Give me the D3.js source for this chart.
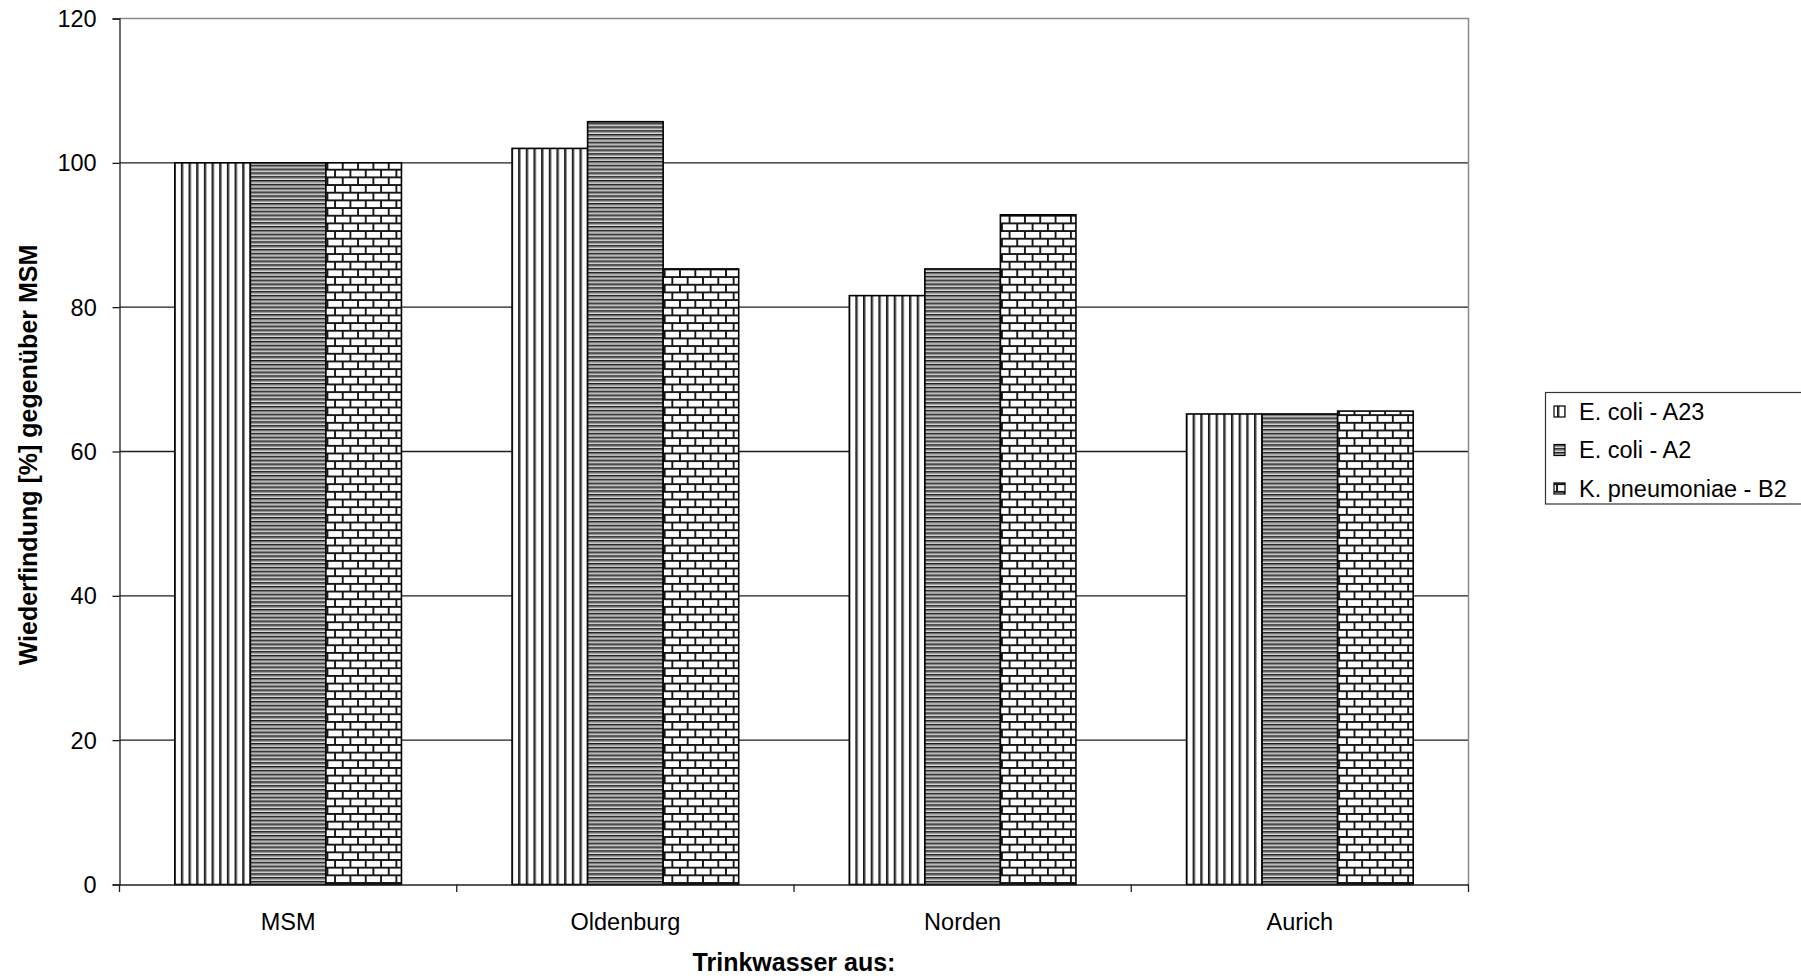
<!DOCTYPE html>
<html>
<head>
<meta charset="utf-8">
<script src="https://cdn.jsdelivr.net/npm/d3@7"></script>
<style>
  html, body { margin: 0; padding: 0; background: #fff; }
  svg { display: block; }
  text { font-family: "Liberation Sans", Arial, sans-serif; fill: #000; }
</style>
</head>
<body>
<svg id="chart" width="1801" height="978"></svg>
<script>
// Recovery of test organisms in drinking water from different sites, relative to MSM
const categories = ["MSM", "Oldenburg", "Norden", "Aurich"];
const seriesNames = ["E. coli - A23", "E. coli - A2", "K. pneumoniae - B2"];
const ecoliA23 = [100, 102.0, 81.6, 65.2];
const ecoliA2 = [100, 105.7, 85.3, 65.2];
const kPneumoniaeB2 = [100, 85.3, 92.8, 65.6];
const yTicks = [0, 20, 40, 60, 80, 100, 120];
const yTitle = "Wiederfindung [%] gegenüber MSM";
const xTitle = "Trinkwasser aus:";

const seriesValues = [ecoliA23, ecoliA2, kPneumoniaeB2];
const patternIds = ["pat-vert", "pat-horiz", "pat-brick"];

const plot = { left: 119.5, right: 1468.5, top: 18.5, bottom: 884.5 };
const fontSize = 23.5;
const titleSize = 25;

const svg = d3.select("#chart");
const defs = svg.append("defs");

// Vertical line fill
{
  const p = defs.append("pattern").attr("id", "pat-vert")
    .attr("patternUnits", "userSpaceOnUse").attr("width", 7.67).attr("height", 10);
  p.append("rect").attr("width", 7.67).attr("height", 10).attr("fill", "#fff");
  p.append("rect").attr("x", 0).attr("width", 1.8).attr("height", 10).attr("fill", "#161616");
  p.append("rect").attr("x", 1.8).attr("width", 1.0).attr("height", 10).attr("fill", "#8f8f8f");
}
// Dense horizontal line fill
{
  const h = 3.83;
  const p = defs.append("pattern").attr("id", "pat-horiz")
    .attr("patternUnits", "userSpaceOnUse").attr("width", 10).attr("height", h);
  p.append("rect").attr("width", 10).attr("height", h).attr("fill", "#dcdcdc");
  p.append("rect").attr("y", 0).attr("width", 10).attr("height", 1.6).attr("fill", "#1e1e1e");
  p.append("rect").attr("y", 1.6).attr("width", 10).attr("height", 1.0).attr("fill", "#8c8c8c");
}
// Brick fill
{
  const w = 15.33, rh = 7.67, t = 1.9, c = "#161616";
  const p = defs.append("pattern").attr("id", "pat-brick")
    .attr("patternUnits", "userSpaceOnUse").attr("width", w).attr("height", rh * 2);
  p.append("rect").attr("width", w).attr("height", rh * 2).attr("fill", "#fff");
  p.append("rect").attr("y", 0).attr("width", w).attr("height", t).attr("fill", c);
  p.append("rect").attr("y", rh).attr("width", w).attr("height", t).attr("fill", c);
  p.append("rect").attr("x", 0).attr("y", 0).attr("width", t).attr("height", rh).attr("fill", c);
  p.append("rect").attr("x", w / 2).attr("y", rh).attr("width", t).attr("height", rh).attr("fill", c);
}

const x0 = d3.scaleBand().domain(categories).range([plot.left, plot.right]).padding(0);
const groupPad = x0.bandwidth() * 0.164;
const x1 = d3.scaleBand().domain(d3.range(seriesNames.length))
  .range([groupPad, x0.bandwidth() - groupPad]).padding(0);
const y = d3.scaleLinear().domain([0, 120]).range([plot.bottom, plot.top]);

// Horizontal gridlines
svg.append("g").selectAll("line").data(yTicks.filter(t => t > 0 && t < 120)).join("line")
  .attr("x1", plot.left).attr("x2", plot.right)
  .attr("y1", d => y(d)).attr("y2", d => y(d))
  .attr("stroke", "#1e1e1e").attr("stroke-width", 1.3);

// Plot area frame (top and right)
svg.append("path")
  .attr("d", `M${plot.left},${plot.top}H${plot.right}V${plot.bottom}`)
  .attr("fill", "none").attr("stroke", "#8a8a8a").attr("stroke-width", 1.5);

// Bars
const groups = svg.append("g").selectAll("g").data(categories).join("g")
  .attr("transform", d => `translate(${x0(d)},0)`);
groups.selectAll("rect")
  .data((c, ci) => seriesValues.map((vals, si) => ({ si, v: vals[ci] })))
  .join("rect")
  .attr("x", d => x1(d.si))
  .attr("width", x1.bandwidth())
  .attr("y", d => y(d.v))
  .attr("height", d => y(0) - y(d.v))
  .attr("fill", d => `url(#${patternIds[d.si]})`)
  .attr("stroke", "#000").attr("stroke-width", 1.6);

// Y axis
const yAxis = svg.append("g").attr("transform", `translate(${plot.left},0)`)
  .call(d3.axisLeft(y).tickValues(yTicks).tickSize(7).tickPadding(0).tickFormat(""));
yAxis.select(".domain").attr("stroke", "#1e1e1e").attr("stroke-width", 1.3);
yAxis.selectAll(".tick line").attr("stroke", "#1e1e1e").attr("stroke-width", 1.3);

// X axis
const xAxis = svg.append("g").attr("transform", `translate(0,${plot.bottom})`)
  .call(d3.axisBottom(x0).tickSize(0).tickFormat(""));
xAxis.select(".domain").attr("stroke", "#1e1e1e").attr("stroke-width", 1.3);
// Category separators below the axis
svg.append("g").selectAll("line")
  .data(categories.map(c => x0(c)).concat([plot.right])).join("line")
  .attr("x1", d => d).attr("x2", d => d)
  .attr("y1", plot.bottom).attr("y2", plot.bottom + 7.5)
  .attr("stroke", "#1e1e1e").attr("stroke-width", 1.3);

function label(g, txt, x, yPos, opts = {}) {
  const rot = opts.rotate ? ` rotate(${opts.rotate})` : "";
  return g.append("text")
    .attr("transform", `translate(${x},${yPos})${rot}`)
    .attr("text-anchor", opts.anchor || "start")
    .attr("font-size", opts.size || fontSize)
    .attr("font-weight", opts.bold ? "bold" : "normal")
    .text(txt);
}

// Tick labels
const tickG = svg.append("g");
yTicks.forEach(t => label(tickG, String(t), 96.7, y(t) + 8.5, { anchor: "end" }));
const catG = svg.append("g");
categories.forEach(c => label(catG, c, x0(c) + x0.bandwidth() / 2, 930, { anchor: "middle" }));

// Axis titles
label(svg, xTitle, (plot.left + plot.right) / 2, 971, { anchor: "middle", bold: true, size: titleSize });
label(svg, yTitle, 37, 455, { anchor: "middle", bold: true, rotate: -90, size: titleSize });

// Legend
const legend = svg.append("g");
legend.append("rect")
  .attr("x", 1545.5).attr("y", 392.5).attr("width", 270).attr("height", 111.5)
  .attr("fill", "#fff").attr("stroke", "#333").attr("stroke-width", 1.2);
seriesNames.forEach((name, i) => {
  const base = 419.5 + i * 38.5;
  legend.append("rect")
    .attr("x", 1554).attr("y", base - 13.5).attr("width", 11).attr("height", 11)
    .attr("fill", `url(#${patternIds[i]})`).attr("stroke", "#000").attr("stroke-width", 1.2);
  label(legend, name, 1579, base);
});
</script>
</body>
</html>
